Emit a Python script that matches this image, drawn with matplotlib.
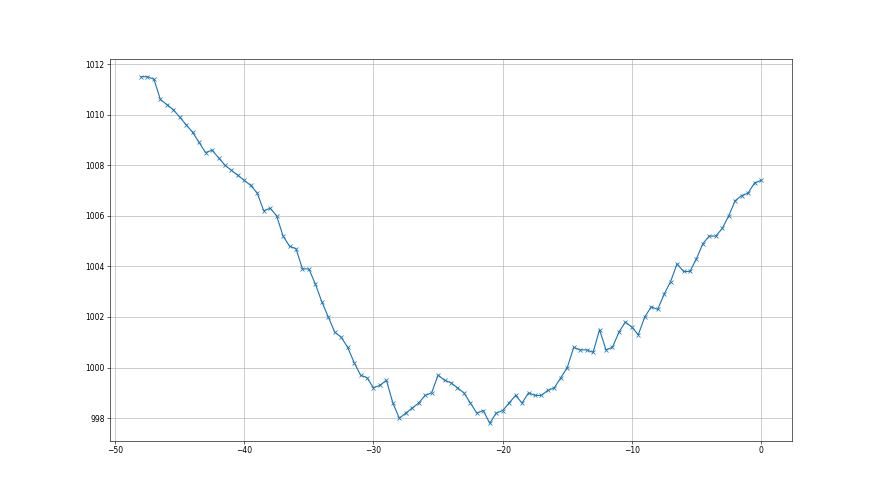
import numpy as np
import matplotlib
matplotlib.use("Agg")
import matplotlib.pyplot as plt

# time offsets (hours), half-hour steps from -48 to 0
hours = np.arange(-48, 0.5, 0.5)

# pressure readings (hPa)
pressure = [
    1011.5, 1011.5, 1011.4, 1010.6, 1010.4, 1010.2, 1009.9, 1009.6, 1009.3, 1008.9,
    1008.5, 1008.6, 1008.3, 1008.0, 1007.8, 1007.6, 1007.4, 1007.2, 1006.9, 1006.2,
    1006.3, 1006.0, 1005.2, 1004.8, 1004.7, 1003.9, 1003.9, 1003.3, 1002.6, 1002.0,
    1001.4, 1001.2, 1000.8, 1000.2, 999.7, 999.6, 999.2, 999.3, 999.5, 998.6,
    998.0, 998.2, 998.4, 998.6, 998.9, 999.0, 999.7, 999.5, 999.4, 999.2,
    999.0, 998.6, 998.2, 998.3, 997.8, 998.2, 998.3, 998.6, 998.9, 998.6,
    999.0, 998.9, 998.9, 999.1, 999.2, 999.6, 1000.0, 1000.8, 1000.7, 1000.7,
    1000.6, 1001.5, 1000.7, 1000.8, 1001.4, 1001.8, 1001.6, 1001.3, 1002.0, 1002.4,
    1002.3, 1002.9, 1003.4, 1004.1, 1003.8, 1003.8, 1004.3, 1004.9, 1005.2, 1005.2,
    1005.5, 1006.0, 1006.6, 1006.8, 1006.9, 1007.3, 1007.4,
]

fig, ax = plt.subplots(figsize=(16, 9), dpi=55)
ax.plot(hours, pressure, marker='x', linestyle='-')
ax.grid(True)

plt.savefig("out.png", dpi=55)
